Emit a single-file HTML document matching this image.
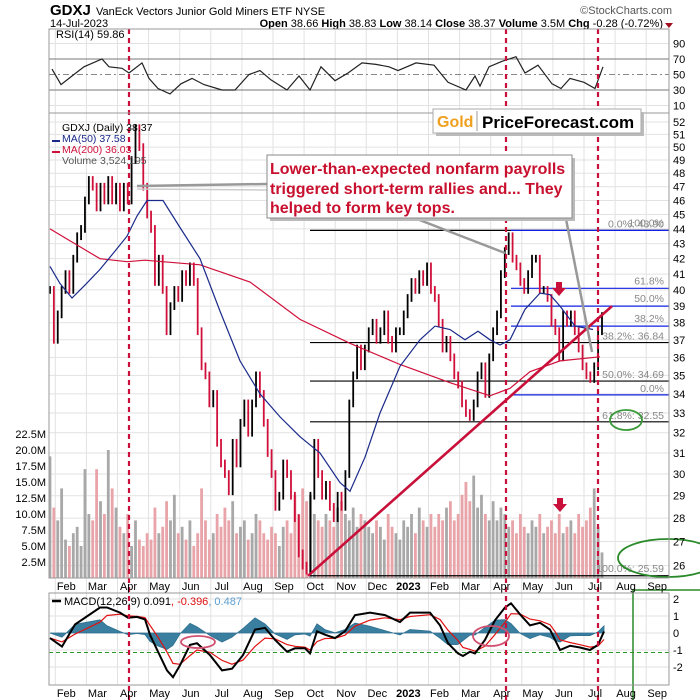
<!DOCTYPE html>
<html><head><meta charset="utf-8">
<style>
html,body{margin:0;padding:0;background:#fff;}
svg{display:block;font-family:"Liberation Sans",sans-serif;}
</style></head>
<body>
<svg id="chart" width="700" height="700" viewBox="0 0 700 700" xmlns="http://www.w3.org/2000/svg">
<rect x="0" y="0" width="700" height="700" fill="#fff"/>
<g id="grid"></g>
<g id="vol"></g>
<g id="annot-back"></g>
<g id="price"></g>
<g id="lines"></g>
<g id="annot"></g>
<g id="labels"></g>

<!-- header -->
<text x="50" y="15" font-size="15" font-weight="bold" fill="#000">GDXJ</text>
<text x="96" y="15" font-size="11" fill="#000">VanEck Vectors Junior Gold Miners ETF  NYSE</text>
<text x="672" y="14" font-size="11" fill="#555" text-anchor="end">©StockCharts.com</text>
<text x="50" y="27" font-size="11" fill="#000">14-Jul-2023</text>
<text x="663" y="27" font-size="11" fill="#000" text-anchor="end"><tspan font-weight="bold">Open</tspan> 38.66 <tspan font-weight="bold">High</tspan> 38.83 <tspan font-weight="bold">Low</tspan> 38.14 <tspan font-weight="bold">Close</tspan> 38.37 <tspan font-weight="bold">Volume</tspan> 3.5M <tspan font-weight="bold">Chg</tspan> -0.28 (-0.72%)</text>
<polygon points="665,23 673,23 669,28" fill="#a01020"/>

<!-- panel borders -->
<rect x="49" y="29" width="620" height="84" fill="none" stroke="#999"/>
<rect x="49" y="113" width="620" height="465" fill="none" stroke="#999"/>
<rect x="49" y="593" width="620" height="92" fill="none" stroke="#999"/>

<text x="56" y="38" font-size="11" fill="#000">RSI(14) 59.86</text>
<text x="62" y="131" font-size="10.5" fill="#000">GDXJ (Daily) 38.37</text>
<text x="62" y="142" font-size="10.5" fill="#1a2a8a">MA(50) 37.58</text>
<text x="62" y="153" font-size="10.5" fill="#d0103a">MA(200) 36.03</text>
<text x="62" y="164" font-size="10.5" fill="#555">Volume 3,524,195</text>
<line x1="52" y1="141" x2="60" y2="141" stroke="#1a2a8a" stroke-width="2"/>
<line x1="52" y1="152" x2="60" y2="152" stroke="#d0103a" stroke-width="2"/>
<text x="64" y="605" font-size="11" fill="#000">MACD(12,26,9) 0.091<tspan fill="#e01010">, -0.396</tspan><tspan fill="#5fa0d0">, 0.487</tspan></text>
<line x1="52" y1="601" x2="61" y2="601" stroke="#000" stroke-width="2.5"/>

<!-- logo -->
<g>
<rect x="436" y="112" width="208" height="24" fill="#bbb"/>
<rect x="433" y="109" width="208" height="24" fill="#fff" stroke="#aaa"/>
<text x="437" y="127" font-size="16" font-weight="bold" fill="#f0a020">Gold</text>
<line x1="477" y1="111" x2="477" y2="131" stroke="#999"/>
<text x="482" y="128" font-size="17" font-weight="bold" fill="#000">PriceForecast.com</text>
</g>

<!-- callout -->
<g>
<rect x="270" y="158" width="305" height="63" fill="#bbb"/>
<rect x="267" y="155" width="305" height="63" fill="#fff" stroke="#888"/>
<text x="270" y="174" font-size="16" font-weight="bold" fill="#c8102e">Lower-than-expected nonfarm payrolls</text>
<text x="270" y="194" font-size="16" font-weight="bold" fill="#c8102e">triggered short-term rallies and... They</text>
<text x="270" y="213" font-size="16" font-weight="bold" fill="#c8102e">helped to form key tops.</text>
</g>

<script>
// ---- data ----
const priceStartMonth = 0.7;   // months since 1-Jan-2022 of first sample
const priceStep = 0.125;       // months between samples
const closes = [40,37,38.5,40,41,40,42,43.5,44,46,47.5,
 47,45.5,47,46,47.5,46,47,45.5,
 47,46,49,51.5,50,47,45,44,
 40.5,42,40,37.5,39,40,39.5,41,
 40.5,41.5,40.5,37.5,35.5,35,33.5,34,
 31.5,30.5,30,29.2,31.5,30.5,32.5,33.5,
 32,33.5,35,34,32.5,31,30,28.5,
 29,30.5,30,29,28,26.5,26,25.8,
 29,31.5,30,29,29.5,28.5,28,29,
 28.5,30,33.5,35,36.5,35.5,36.5,37.5,
 38,37,37.5,38.5,37,36.5,37.5,37.5,
 38.5,39.5,40.5,40,41,40.5,41.5,40,
 39.5,38,36.5,37,36,35,34.5,33.5,
 33,32.8,33.5,35,35.5,34,36,37.5,
 38.5,41,42.5,43.5,42,41.5,40.5,40,
 41,42,42,40,40,39.5,38,37.5,
 36,38.5,38,38.5,37.5,36.5,35.5,35,
 34.8,35.5,37.5,38.4];
const volumes = [19,11,9,14,6,5,7,8,5,17,10,
 9,17,12,10,20,14,11,8,
 7,10,5,9,6,5,7,6,
 11,7,8,12,9,13,7,8,
 6,9,5,7,14,9,6,7,
 10,8,11,9,12,7,8,9,
 6,7,10,9,7,6,8,7,
 5,8,9,7,13,10,14,12,
 13,10,9,8,10,9,8,11,
 12,10,9,11,8,10,9,8,
 7,9,8,6,10,8,7,6,
 9,8,10,7,11,9,8,10,
 8,10,9,11,12,9,10,13,
 15,12,16,11,13,10,9,12,
 9,11,10,8,9,7,10,8,
 7,9,8,10,7,8,9,7,
 10,7,8,9,7,10,8,9,
 11,14,8,4];
const ma50X = [50,60,72,85,100,115,127,137,147,163,180,200,220,240,260,280,300,320,340,350,365,380,400,420,435,450,465,478,490,500,510,525,540,550,560,575,593];
const ma50 = [41.5,40.4,39.5,40.3,41.3,42.5,43.5,44.9,46,46,44.1,42,38.7,35.8,34,32.8,31.8,31,29.6,29.2,30.8,33,35.5,37,37.8,37.6,37,37.5,37,36.7,37,38.8,39.8,39.7,39,37.8,37.6];
const ma200X = [50,100,127,145,200,250,300,350,400,450,490,510,530,560,600];
const ma200 = [44,42,41.8,41.9,41.6,40.5,38.2,36.8,35.6,34.6,33.9,34.3,35.2,35.8,36.03];
const rsiX = [52,61,72,84,102,109,122,129,142,149,158,170,181,192,204,222,235,249,260,271,287,299,310,321,335,348,362,376,389,398,416,434,448,466,475,480,489,502,516,525,538,552,561,570,584,595,603];
const rsi = [57,37,48,60,70,60,58,52,65,45,32,25,38,45,37,30,30,50,55,43,30,48,30,60,42,52,65,63,60,55,65,62,40,30,48,35,60,67,73,52,62,38,32,45,40,32,59.9];
const macdX = [50,62,75,100,107,120,128,137,145,150,158,167,173,180,190,197,210,222,232,243,255,265,275,287,295,305,310,317,325,335,345,355,370,385,400,410,430,440,448,458,463,470,475,485,495,505,511,520,530,540,550,555,560,570,580,590,598,604];
const macd = [-0.3,-0.8,0.5,1.5,1.5,1.2,0.9,0.95,0.8,-0.1,-1.1,-2.2,-2.6,-1.9,-0.7,-0.6,-1.3,-2.2,-2.1,-1.3,0.2,0.3,-0.4,-1.1,-0.9,-0.9,-1.2,0.1,-0.1,-0.3,0.1,1.05,1.2,1.05,0.65,1.2,1.2,0.45,-0.6,-1.2,-1.35,-1.1,-1.2,-0.4,0.75,1.5,1.75,1.1,0.45,0.6,0.2,-0.4,-1.0,-0.75,-0.85,-1.0,-0.7,0.09];
const priceTicks = [26,27,28,29,30,31,32,33,34,35,36,37,38,39,40,41,42,43,44,45,46,47,48,49,50,51,52];
const volTicks = [2.5,5,7.5,10,12.5,15,17.5,20,22.5];
const volTickLabels = ["2.5M","5.0M","7.5M","10.0M","12.5M","15.0M","17.5M","20.0M","22.5M"];
const rsiTicks = [10,30,50,70,90];
const macdTicks = [-2,-1,0,1,2];
const monthLabels = ["Feb","Mar","Apr","May","Jun","Jul","Aug","Sep","Oct","Nov","Dec","2023","Feb","Mar","Apr","May","Jun","Jul","Aug","Sep"];
const fibBlack = [43.9,36.84,34.69,32.55,25.59];
const fibBlue = [43.9,40.1,39.0,37.8,33.95];

// ---- scales ----
const NS = "http://www.w3.org/2000/svg";
const X = m => 588 + (m - 18) * 31.1;
const Y = p => 122 + Math.log(52 / p) * 640;
const VY = v => 578 - v * 6.4;
const RY = v => 59 + (70 - v) * 0.775;
const MY = v => 633 - v * 17;
function mk(tag, attrs, parent){const e=document.createElementNS(NS,tag);for(const k in attrs)e.setAttribute(k,attrs[k]);parent.appendChild(e);return e;}
const G = id => document.getElementById(id);

// grid
const grid = G('grid');
for (let i = 0; i < monthLabels.length; i++) {
  const x = X(i + 1) - 4;
  const l = mk('line',{x1:x,x2:x,y1:29,y2:685,stroke:'#e2e2e2','stroke-width':1},grid);
  
  
}
priceTicks.forEach(p=>{
  const l=mk('line',{x1:49,x2:669,y1:Y(p),y2:Y(p),stroke:'#e2e2e2'},grid);
  
  
  const t=mk('text',{x:673,y:Y(p)+4,'font-size':11,fill:'#000'},G('labels'));t.textContent=p;
  
  
});
volTicks.forEach((v,i)=>{
  const t=mk('text',{x:46,y:VY(v)+4,'font-size':11,fill:'#000','text-anchor':'end'},G('labels'));t.textContent=volTickLabels[i];
  
  
});
rsiTicks.forEach(v=>{
  const isRef = v===30||v===70;
  const l=mk('line',{x1:49,x2:669,y1:RY(v),y2:RY(v),stroke:isRef?'#777':(v===50?'#888':'#e2e2e2'),'stroke-dasharray':v===50?'6,3,2,3':'none'},grid);
  
  
  const t=mk('text',{x:673,y:RY(v)+4,'font-size':11,fill:'#000'},G('labels'));t.textContent=v;
  
  
});
macdTicks.forEach(v=>{
  const l=mk('line',{x1:49,x2:669,y1:MY(v),y2:MY(v),stroke:'#e2e2e2'},grid);
  
  
  const t=mk('text',{x:673,y:MY(v)+4,'font-size':11,fill:'#000'},G('labels'));t.textContent=v;
  
  
});
monthLabels.forEach((lab,i)=>{
  [586,693].forEach(yy=>{
    const t=mk('text',{x:X(i+1)+7,y:yy+4,'font-size':11,fill:'#000','text-anchor':'middle','font-weight':lab==='2023'?'bold':'normal'},G('labels'));
    t.textContent=lab;
    
    
  });
});

// volume
volumes.forEach((v,i)=>{
  const x=X(priceStartMonth+i*priceStep);
  const up = i===0 || closes[i]>=closes[i-1];
  const r=mk('rect',{x:x-1.4,y:VY(v),width:2.8,height:578-VY(v),fill:up?'#a8a8a8':'#e8a4a8'},G('vol'));
  
  
});

// price bars
closes.forEach((c,i)=>{
  const prev = i===0 ? c : closes[i-1];
  const x=X(priceStartMonth+i*priceStep);
  const hi=Math.max(c,prev)*1.006, lo=Math.min(c,prev)*0.994;
  const up=c>=prev;
  const l=mk('line',{x1:x,x2:x,y1:Y(hi),y2:Y(lo),stroke:up?'#000':'#d0103a','stroke-width':1.8},G('price'));
  
  
});

function poly(xs, vs, yf, attrs, name){
  const pts=xs.map((x,i)=>x.toFixed(1)+','+yf(vs[i]).toFixed(1)).join(' ');
  const p=mk('polyline',Object.assign({points:pts,fill:'none'},attrs),G('lines'));
  
  
  return p;
}
poly(ma200X, ma200, Y, {stroke:'#d0103a','stroke-width':1.2}, 'ma200-line');
poly(ma50X, ma50, Y, {stroke:'#1a2a8a','stroke-width':1.2}, 'ma50-line');
poly(rsiX, rsi, RY, {stroke:'#222','stroke-width':1.2}, 'rsi-line');

// MACD signal & histogram
const signal=[]; macd.forEach((v,i)=>signal.push(i===0?v:signal[i-1]+0.45*(v-signal[i-1])));
const hist=macd.map((v,i)=>v-signal[i]);
let hp='M'+macdX[0]+','+MY(0);
macdX.forEach((x,i)=>{hp+=' L'+x+','+MY(hist[i]*0.9).toFixed(1);});
hp+=' L'+macdX[macdX.length-1]+','+MY(0)+' Z';
const hpath=mk('path',{d:hp,fill:'#3a7fa0',stroke:'#2f6f90','stroke-width':0.8},G('lines'));


const dl=mk('line',{x1:49,x2:669,y1:MY(-1.15),y2:MY(-1.15),stroke:'#2a9a2a','stroke-dasharray':'4,3'},G('lines'));


poly(macdX, signal, MY, {stroke:'#e01010','stroke-width':1.2}, 'macd-signal-line');
poly(macdX, macd, MY, {stroke:'#000','stroke-width':2}, 'macd-line');

// fib lines
const ab=G('annot-back');
fibBlack.forEach(p=>{
  const l=mk('line',{x1:310,x2:669,y1:Y(p),y2:Y(p),stroke:'#000','stroke-width':1.2},ab);
  
  
});
fibBlue.forEach(p=>{
  const l=mk('line',{x1:511,x2:669,y1:Y(p),y2:Y(p),stroke:'#1020e0','stroke-width':1.2},ab);
  
  
});

// annotations
const an=G('annot');
const fibTexts=[["0.0%: 43.90",664,Y(43.9)-3],["100.0%",664,Y(43.9)-4],["61.8%",664,Y(40.1)-4],["50.0%",664,Y(39.0)-4],["38.2%",664,Y(37.8)-4],["38.2%: 36.84",664,Y(36.84)-3],["50.0%: 34.69",664,Y(34.69)-3],["0.0%",664,Y(33.95)-3],["61.8%: 32.55",664,Y(32.55)-3],["100.0%: 25.59",664,Y(25.59)-4]];
fibTexts.forEach(f=>{
  const t=mk('text',{x:f[1],y:f[2],'font-size':10.5,fill:'#888','text-anchor':'end'},an);t.textContent=f[0];
  
  
});
function L(x1,y1,x2,y2,attrs,name){const l=mk('line',Object.assign({x1,y1,x2,y2},attrs),an);return l;}
L(308,Y(25.59),612,Y(39.0),{stroke:'#c8103a','stroke-width':2.6},'trend-line');
[[129],[506],[598]].forEach(a=>L(a[0],29,a[0],700,{stroke:'#c8103a','stroke-width':2.2,'stroke-dasharray':'5,4'},'event-marker-line'));
const gs={stroke:'#999','stroke-width':2.5};
L(267,184,137,186,gs,'callout-pointer');
L(267,190,137,189,{stroke:'#ccc','stroke-width':1.5},'callout-pointer');
L(417,219,505,253,gs,'callout-pointer');
L(566,219,592,352,gs,'callout-pointer');
function arrow(cx,top,name){const p=mk('polygon',{points:`${cx-3},${top} ${cx+3},${top} ${cx+3},${top+6} ${cx+7},${top+6} ${cx},${top+14} ${cx-7},${top+6} ${cx-3},${top+6}`,fill:'#c8103a'},an);}
arrow(559,282,'down-arrow-price');
arrow(560,498,'down-arrow-volume');
function ell(cx,cy,rx,ry,col,name){const e=mk('ellipse',{cx,cy,rx,ry,fill:'none',stroke:col,'stroke-width':1.8},an);}
ell(626,420,16,10,'#3a9a3a','support-ellipse');
ell(668,558,50,19,'#2a8a2a','target-ellipse');
ell(198,642,17,6,'#d05070','macd-ellipse');
ell(491,636,18,10,'#d05070','macd-ellipse');
const gr=mk('polyline',{points:'633,700 633,590 700,590',fill:'none',stroke:'#2a8a2a','stroke-width':1.5},an);


</script>
</svg>
</body></html>
